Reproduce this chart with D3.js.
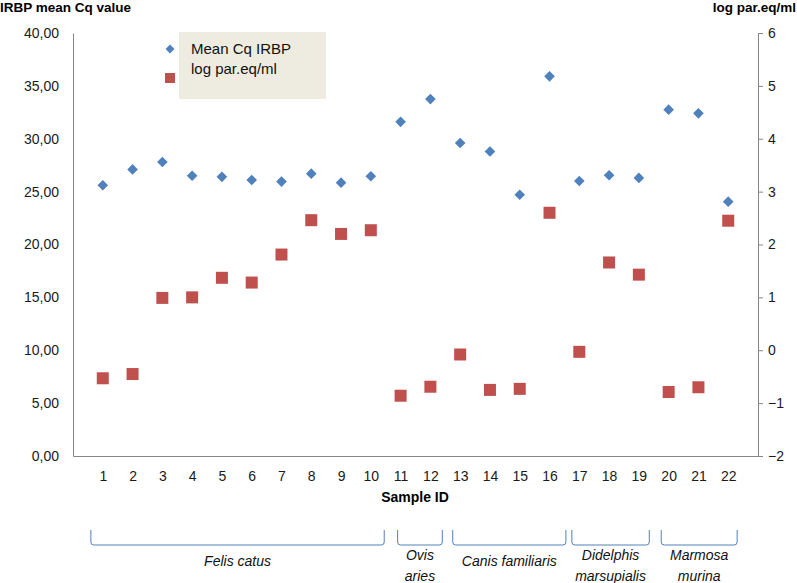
<!DOCTYPE html>
<html><head><meta charset="utf-8">
<script src="https://cdn.jsdelivr.net/npm/d3@7"></script>
<style>body{margin:0;background:#fff}svg{display:block;font-family:"Liberation Sans",Arial,sans-serif}</style>
</head><body><svg id="c" width="797" height="583"></svg>
<script>
const sampleIds = d3.range(1, 23);
const meanCq = [25.6, 27.1, 27.8, 26.5, 26.4, 26.1, 25.95, 26.7, 25.85, 26.45, 31.6, 33.75, 29.6, 28.8, 24.7, 35.9, 26.0, 26.55, 26.3, 32.75, 32.4, 24.05];
const logParEq = [-0.53, -0.45, 0.99, 1.0, 1.37, 1.28, 1.81, 2.46, 2.2, 2.27, -0.86, -0.69, -0.08, -0.75, -0.73, 2.6, -0.03, 1.66, 1.43, -0.79, -0.7, 2.45];
const leftTicks = [0, 5, 10, 15, 20, 25, 30, 35, 40];
const rightTicks = [-2, -1, 0, 1, 2, 3, 4, 5, 6];
const groupNames = [["Felis catus"], ["Ovis", "aries"], ["Canis familiaris"], ["Didelphis", "marsupialis"], ["Marmosa", "murina"]];
const groupSpanStart = [0.6, 10.9, 12.75, 16.75, 19.75];
const groupSpanEnd = [10.45, 12.4, 16.55, 19.35, 22.3];
const seriesNames = ["Mean Cq IRBP", "log par.eq/ml"];

const blue = "#4F81BD", red = "#C0504D", axisCol = "#868686";
const svg = d3.select("#c");
const x = d3.scaleLinear().domain([0, 23]).range([73, 758]);
const yL = d3.scaleLinear().domain([0, 40]).range([456, 33]);
const yR = d3.scaleLinear().domain([-2, 6]).range([456, 33]);

// axes
const gL = svg.append("g").attr("transform", "translate(73,0)")
  .call(d3.axisLeft(yL).tickValues(leftTicks).tickSize(0).tickSizeOuter(0).tickPadding(14)
    .tickFormat(d => d3.format(".2f")(d).replace(".", ",")));
const gR = svg.append("g").attr("transform", "translate(758,0)")
  .call(d3.axisRight(yR).tickValues(rightTicks).tickSize(5).tickSizeOuter(0).tickPadding(5));
const gB = svg.append("g").attr("transform", "translate(0,456)")
  .call(d3.axisBottom(x).tickValues(sampleIds).tickSize(0).tickSizeOuter(0).tickPadding(15));
[gL, gR, gB].forEach(g => {
  g.select(".domain").attr("stroke", axisCol);
  g.selectAll(".tick line").attr("stroke", axisCol);
  g.selectAll(".tick text").attr("font-size", 14).attr("fill", "#1a1a1a").attr("font-family", "Liberation Sans, Arial, sans-serif");
});

// series
const diamond = d3.symbol().type(d3.symbolDiamond2).size(72);
svg.append("g").selectAll("path").data(meanCq).join("path")
  .attr("d", diamond)
  .attr("transform", (d, i) => `translate(${x(sampleIds[i])},${yL(d)})`)
  .attr("fill", blue);
svg.append("g").selectAll("rect").data(logParEq).join("rect")
  .attr("x", (d, i) => x(sampleIds[i]) - 6).attr("y", d => yR(d) - 6)
  .attr("width", 12).attr("height", 12).attr("fill", red);

// titles
svg.append("text").attr("x", 0).attr("y", 12).attr("font-size", 13.5).attr("font-weight", "bold").text("IRBP mean Cq value");
svg.append("text").attr("x", 796).attr("y", 12).attr("text-anchor", "end").attr("font-size", 13.5).attr("font-weight", "bold").text("log par.eq/ml");
svg.append("text").attr("x", 415).attr("y", 502).attr("text-anchor", "middle").attr("font-size", 14).attr("font-weight", "bold").text("Sample ID");

// legend
svg.append("rect").attr("x", 179).attr("y", 32).attr("width", 147).attr("height", 67).attr("fill", "#EEECE1");
svg.append("path").attr("d", d3.symbol().type(d3.symbolDiamond2).size(50)).attr("transform", "translate(170,49)").attr("fill", blue);
svg.append("rect").attr("x", 165).attr("y", 73).attr("width", 10).attr("height", 10).attr("fill", red);
seriesNames.forEach((s, i) => {
  svg.append("text").attr("x", 191).attr("y", 54 + i * 20).attr("font-size", 15).attr("fill", "#111").text(s);
});

// group brackets
const bTop = 530, bBot = 545, rad = 3;
groupNames.forEach((names, i) => {
  const x0 = x(groupSpanStart[i]), x1 = x(groupSpanEnd[i]);
  svg.append("path")
    .attr("d", `M${x0},${bTop} L${x0},${bBot - rad} Q${x0},${bBot} ${x0 + rad},${bBot} L${x1 - rad},${bBot} Q${x1},${bBot} ${x1},${bBot - rad} L${x1},${bTop}`)
    .attr("fill", "none").attr("stroke", blue).attr("stroke-width", 1);
  const cx = (x0 + x1) / 2;
  const y0 = names.length === 1 ? 566 : 560;
  names.forEach((n, j) => {
    svg.append("text").attr("x", cx).attr("y", y0 + j * 21).attr("text-anchor", "middle")
      .attr("font-size", 14).attr("font-style", "italic").attr("fill", "#111").text(n);
  });
});
</script></body></html>
